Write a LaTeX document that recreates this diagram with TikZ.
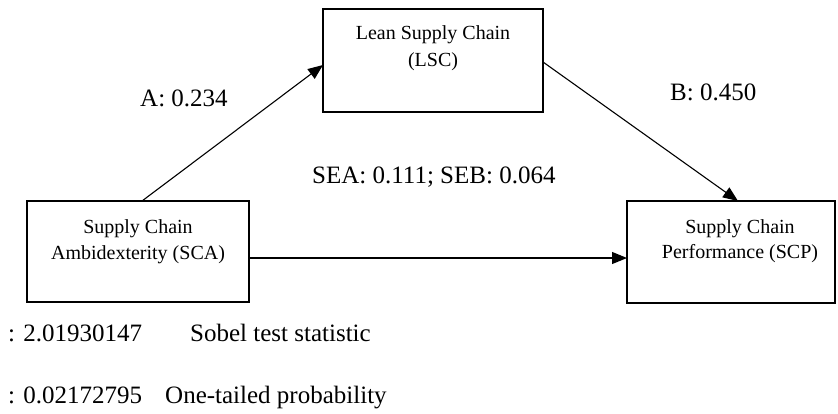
\documentclass[tikz,border=0pt]{standalone}
\usepackage{fontspec}
\setmainfont{Liberation Serif}
\usetikzlibrary{arrows.meta}
\tikzset{
  boxnode/.style={draw=black, line width=2.4pt, rectangle, inner sep=0pt, fill=white},
  boxtext/.style={font=\fontsize{20}{24}\selectfont, inner sep=0pt, anchor=base},
  bigtext/.style={font=\fontsize{25}{30}\selectfont, inner sep=0pt, anchor=base west},
  link/.style={line width=1.1pt, -{Triangle[length=15pt,width=12pt]}}
}
\begin{document}
\begin{tikzpicture}[x=1pt,y=-1pt]
\useasboundingbox (0,0) rectangle (838,413);
% boxes
\node[boxnode, minimum width=222pt, minimum height=101pt] (sca) at (138,251.5) {};
\node[boxnode, minimum width=220pt, minimum height=103pt] (lsc) at (433,60.5) {};
\node[boxnode, minimum width=208pt, minimum height=102pt] (scp) at (731,252) {};
% box texts
\node[boxtext] (sca1) at (138,233) {Supply Chain};
\node[boxtext] (sca2) at (138,259) {Ambidexterity (SCA)};
\node[boxtext] (lsc1) at (433,39) {Lean Supply Chain};
\node[boxtext] (lsc2) at (433,66) {(LSC)};
\node[boxtext] (scp1) at (740,233) {Supply Chain};
\node[boxtext] (scp2) at (740,258) {Performance (SCP)};
% connector end points
\coordinate (scaTop) at (142,201);
\coordinate (lscLeft) at (323,65);
\coordinate (lscRight) at (543,62);
\coordinate (scpTop) at (738,201);
\coordinate (scaRight) at (249,258);
\coordinate (scpLeft) at (627,258);
\draw[link] (scaTop) -- (lscLeft);
\draw[link] (lscRight) -- (scpTop);
\draw[link] (scaRight) -- (scpLeft);
% labels
\node[bigtext] (la) at (140,106) {A: 0.234};
\node[bigtext] (lb) at (670,100) {B: 0.450};
\node[bigtext] (lse) at (312,183) {SEA: 0.111; SEB: 0.064};
\node[bigtext] (s1) at (8,341) {: 2.01930147};
\node[bigtext] (s2) at (190,341) {Sobel test statistic};
\node[bigtext] (p1) at (8,403) {: 0.02172795};
\node[bigtext] (p2) at (165,403) {One-tailed probability};
\end{tikzpicture}
\end{document}
